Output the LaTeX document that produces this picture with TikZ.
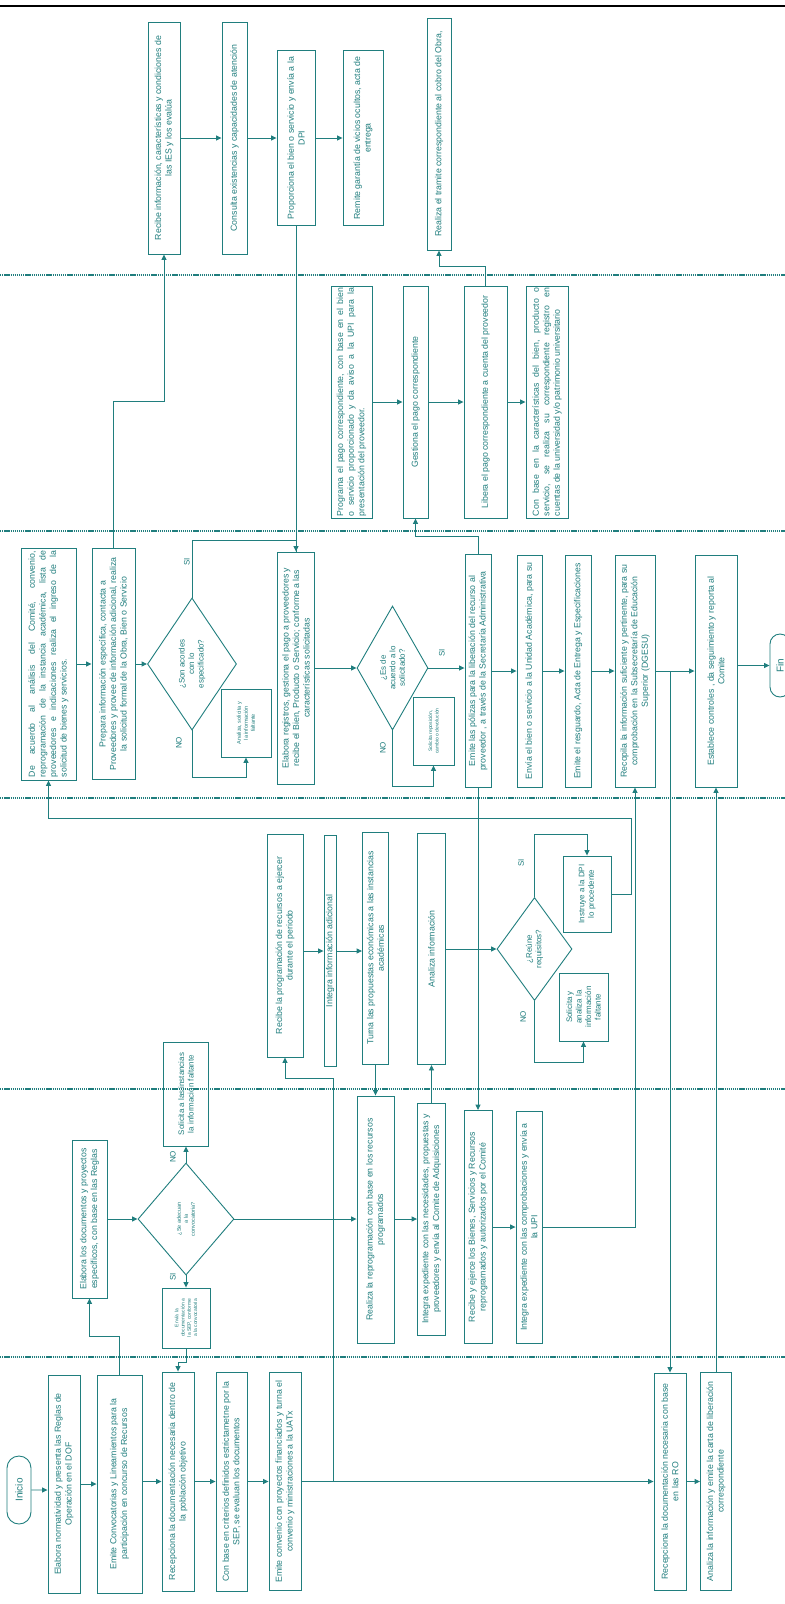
\documentclass[tikz,border=0pt]{standalone}
\usepackage{fontspec}
\setmainfont{Liberation Sans}
\usetikzlibrary{arrows.meta,shapes.geometric,shapes.misc}
\definecolor{tl}{RGB}{32,126,126}
\newcommand\setfs[2]{\fontsize{#1}{#2}\selectfont}
\tolerance=10000 \hbadness=10000
\begin{document}
\begin{tikzpicture}[x=1bp,y=-1bp,line width=0.9bp,
  bx/.style 2 args={draw=tl,rotate=90,align=center,text=tl,inner sep=1bp,
    minimum width=#1bp,minimum height=#2bp,font=\setfs{8.8}{10.6}},
  jb/.style={align=justify,text width=#1bp},
  dia/.style n args={3}{draw=tl,diamond,rotate=90,align=center,text=tl,inner sep=0pt,
    minimum width=#1bp,minimum height=#2bp,shape aspect=#3,font=\setfs{8}{9.5}},
  term/.style 2 args={draw=tl,rounded rectangle,rotate=90,text=tl,
    minimum width=#1bp,minimum height=#2bp,inner sep=1bp,font=\setfs{10}{12}},
  lbl/.style={rotate=90,text=tl,inner sep=0pt,font=\setfs{8}{9}},
  ln/.style={draw=tl},
  arr/.style={draw=tl,-{Triangle[length=5.5bp,width=5bp]}},
  sepl/.style={draw=tl,line width=1.3bp,dash pattern=on 1.3bp off 0.8bp}]
\clip (0,0) rectangle (785,1604);
\fill[white] (0,0) rectangle (785,1604);
\draw[black,line width=2.5bp] (0,6) -- (785,6);
\foreach \yy in {275,531,798,1089,1357} \draw[sepl] (0,\yy) -- (785,\yy);

% ---------- Lane A ----------
\node[bx={232}{32}] (A1) at (164,138) {Recibe información, características y condiciones de\\las IES y los evalúa};
\node[bx={232}{25}] (A2) at (234.5,138) {Consulta existencias y capacidades de atención};
\node[bx={175}{38}] (A3) at (296,138) {Proporciona el bien o servicio y envía a la\\DPI};
\node[bx={175}{40}] (A4) at (363,138) {Remite garantía de vicios ocultos, acta de\\entrega};
\node[bx={232}{24}] (A5) at (439,134) {Realiza el tramite correspondiente al cobro del Obra,};

% ---------- Lane B ----------
\node[bx={232}{41},jb=228] (B1) at (351.5,402) {Programa el pago correspondiente, con base en el bien\linebreak o servicio proporcionado y da aviso a la UPI para la\linebreak presentación del proveedor.};
\node[bx={232}{25}] (B2) at (415.5,402) {Gestiona el pago correspondiente};
\node[bx={232}{43}] (B3) at (485.5,402) {Libera el pago correspondiente a cuenta del proveedor};
\node[bx={232}{42},jb=228] (B4) at (547,402) {Con base en la características del bien, producto o\linebreak servicio, se realiza su correspondiente registro en\linebreak cuentas de la universidad y/o patrimonio universitario};

% ---------- Lane C ----------
\node[bx={232}{55},jb=226] (C1) at (48.5,664) {De acuerdo al análisis del Comité, convenio,\linebreak reprogramación de la instancia académica, lista de\linebreak proveedores e indicaciones realiza el ingreso de la\linebreak solicitud de bienes y servicios.};
\node[bx={231}{43}] (C2) at (113.5,664) {Prepara información específica, contacta a\\Proveedores y provee de información adicional, realiza\\la solicitud formal de la Obra, Bien o Servicio};
\node[dia={132}{89}{1.48}] (D1a) at (192,664) {¿Son acordes\\con lo\\especificado?};
\node[bx={68}{50},font=\setfs{5.5}{7}] (C3) at (246,723) {Analiza, solicita y\\la información\\faltante};
\node[bx={232}{37}] (C4) at (296,668) {Elabora registros, gestiona el pago a proveedores y\\recibe el Bien, Producto o Servicio; conforme a las\\características solicitadas};
\node[dia={124}{71}{1.75}] (D2a) at (392.5,668) {¿Es de\\acuerdo a lo\\solicitado?};
\node[bx={68}{41},font=\setfs{5}{6.5}] (C5) at (433.5,731) {Solicita reposición,\\cambio o devolución};
\node[bx={233}{26}] (C6) at (478,671) {Emite las pólizas para la liberación del recurso al\\proveedor , a través de la Secretaría Administrativa};
\node[bx={232}{25}] (C7) at (529.5,671) {Envía el bien o servicio a la Unidad Académica, para su};
\node[bx={232}{26}] (C8) at (578,671) {Emite el resguardo, Acta de Entrega y Especificaciones};
\node[bx={232}{40}] (C9) at (635,671) {Recopila la información suficiente y pertinente, para su\\comprobación en la Subsecretaría de Educación\\Superior (DGESU)};
\node[bx={232}{42}] (C10) at (716,671) {Establece controles , da seguimiento y reporta al\\Comite};
\node[term={65}{20}] (Fin) at (780,665.5) {Fin};

% ---------- Lane D ----------
\node[bx={223}{36}] (D1) at (285,945.5) {Recibe la programación de recursos a ejercer\\durante el periodo};
\node[bx={231}{12}] (D2) at (330,951) {Integra información adicional};
\node[bx={232}{26}] (D3) at (375.5,948) {Turna las propuestas económicas a las instancias\\académicas};
\node[bx={231}{28}] (D4) at (431.5,949) {Analiza información};
\node[dia={103}{75}{1.37}] (D3a) at (534.5,949) {¿Reúne\\requisitos?};
\node[bx={76}{48},font=\setfs{8}{9.5}] (D5) at (587,894) {Instruye a la DPI\\lo procedente};
\node[bx={68}{49},font=\setfs{8}{9.5}] (D6) at (583.5,1007) {Solicita y\\analiza la\\información\\faltante};

% ---------- Lane E ----------
\node[bx={158}{35}] (E1) at (89.5,1219) {Elabora los documentos y proyectos\\específicos, con base en las Reglas};
\node[dia={112}{96}{1.17},font=\setfs{5.5}{7}] (D4a) at (186,1219) {¿Se adecuan\\a la\\convocatoria?};
\node[bx={104}{45},font=\setfs{8}{9.5}] (E2) at (186,1094) {Solicita a las instancias\\la información faltante};
\node[bx={60}{48},font=\setfs{5}{6.3}] (E3) at (186,1318) {Envía la\\documentación a\\la SEP, conforme\\a la convocatoria};
\node[bx={247}{37}] (E4) at (375.5,1219.5) {Realiza la reprogramación con base en los recursos\\programados};
\node[bx={232}{28}] (E5) at (431.5,1219) {Integra expediente con las necesidades, propuestas y\\proveedores y envía al Comite de Adquisiciones};
\node[bx={233}{28}] (E6) at (478,1227) {Recibe y ejerce los Bienes, Servicios y Recursos\\reprogramados y autorizados por el Comité};
\node[bx={232}{26}] (E7) at (529,1227) {Integra expediente con las comprobaciones y envía a\\la UPI};

% ---------- Lane F ----------
\node[term={70}{24}] (Ini) at (19,1490) {Inicio};
\node[bx={218}{32}] (F1) at (64,1484) {Elabora normatividad y presenta las Reglas de\\Operación en el DOF};
\node[bx={218}{45}] (F2) at (119.5,1484) {Emite Convocatorias y Lineamientos para la\\participación en concurso de Recursos};
\node[bx={219}{32}] (F3) at (178,1481.5) {Recepciona la documentación necesaria dentro de\\la población objetivo};
\node[bx={219}{31}] (F4) at (231.5,1481.5) {Con base en criterios definidos estrictametne por la\\SEP, se evaluan los documentos};
\node[bx={218}{32}] (F5) at (285,1481.5) {Emite convenio con proyectos financiados y turna el\\convenio y ministraciones a la UATx};
\node[bx={217}{32}] (F6) at (670,1481.5) {Recepciona la documentación necesaria con base\\en las RO};
\node[bx={218}{31}] (F7) at (716,1481.5) {Analiza la información y emite la carta de liberación\\correspondiente};

% ---------- labels ----------
\node[lbl] (siA) at (187,562) {SI};
\node[lbl] (noA) at (179,743) {NO};
\node[lbl] (siB) at (442,653) {SI};
\node[lbl] (noB) at (383,748) {NO};
\node[lbl] (siC) at (521,863) {SI};
\node[lbl] (noC) at (523,1017) {NO};
\node[lbl] (noD) at (173,1157) {NO};
\node[lbl] (siD) at (173,1277) {SI};

% ---------- connectors ----------
\draw[arr] (A1.south) -- (A2.north);
\draw[arr] (A2.south) -- (A3.north);
\draw[arr] (A3.south) -- (A4.north);
\draw[arr] (B3.east) -- ++(0,-19) -| (A5.west);
\draw[arr] (C2.east) -- ++(0,-147) -| (A1.west);
\draw[arr] (A3.west) -- (C4.east);
\draw[ln] (D1a.east) -- ++(0,-57) -| (C4.east);
\draw[arr] (D1a.west) -- ++(0,47) -| (C3.west);

\draw[arr] (B1.south) -- (B2.north);
\draw[arr] (B2.south) -- (B3.north);
\draw[arr] (B3.south) -- (B4.north);

\draw[arr] (C1.south) -- (C2.north);
\draw[arr] (C2.south) -- (D1a.north);
\draw[arr] (C4.south) -- (D2a.north);
\draw[arr] (D2a.south) -- (C6.north |- D2a.south);
\draw[arr] (D2a.west) -- ++(0,56) -| (C5.west);
\draw[arr] (C6.east) -- ++(0,-18) -| (B2.west);
\draw[arr] (C6.south) -- (C7.north);
\draw[arr] (C7.south) -- (C8.north);
\draw[arr] (C8.south) -- (C9.north);
\draw[arr] (C9.south) -- (C10.north);
\draw[arr] (C10.south |- Fin.north) -- (Fin.north);
\draw[arr] (C9.south -| F6.east) -- (F6.east);
\draw[arr] (F7.east) -- (C10.west);
\draw[arr] (E7.south) -| (C9.west);
\draw[arr] (C6.west) -- (E6.east);

\draw[arr] (D1.south |- D2) -- (D2.north);
\draw[arr] (D2.south) -- (D3.north |- D2);
\draw[arr] (D4.south) -- (D3a.north);
\draw[arr] (D3a.east) -- ++(0,-63) -| (D5.east);
\draw[arr] (D3a.west) -- ++(0,61) -| (D6.west);
\draw[arr] (D5.south) -| ++(20,-76) -| (C1.west);
\draw[arr] (D3.west) -- (E4.east);
\draw[arr] (E5.east) -- (D4.west);

\draw[arr] (E1.south) -- (D4a.north);
\draw[arr] (D4a.east) -- (E2.west);
\draw[arr] (D4a.west) -- (E3.east);
\draw[arr] (D4a.south) -- (E4.north |- D4a.south);
\draw[arr] (E4.south |- E5) -- (E5.north);
\draw[arr] (E6.south) -- (E7.north);
\draw[arr] (E3.west) -- ++(0,14) -| (F3.east);
\draw[arr] (F2.east) -- ++(0,-38) -| (E1.west);

\draw[arr] (Ini) -- (F1.north |- Ini);
\draw[arr] (F1.south) -- (F2.north);
\draw[arr] (F2.south |- F3) -- (F3.north);
\draw[arr] (F3.south) -- (F4.north);
\draw[arr] (F4.south) -- (F5.north);
\draw[arr] (F5.south) -- (F6.north);
\draw[arr] (F6.south) -- (F7.north);
\draw[arr] (F5.south) ++(32,0) -- ++(0,-403.5) -| (D1.west);
\end{tikzpicture}
\end{document}
